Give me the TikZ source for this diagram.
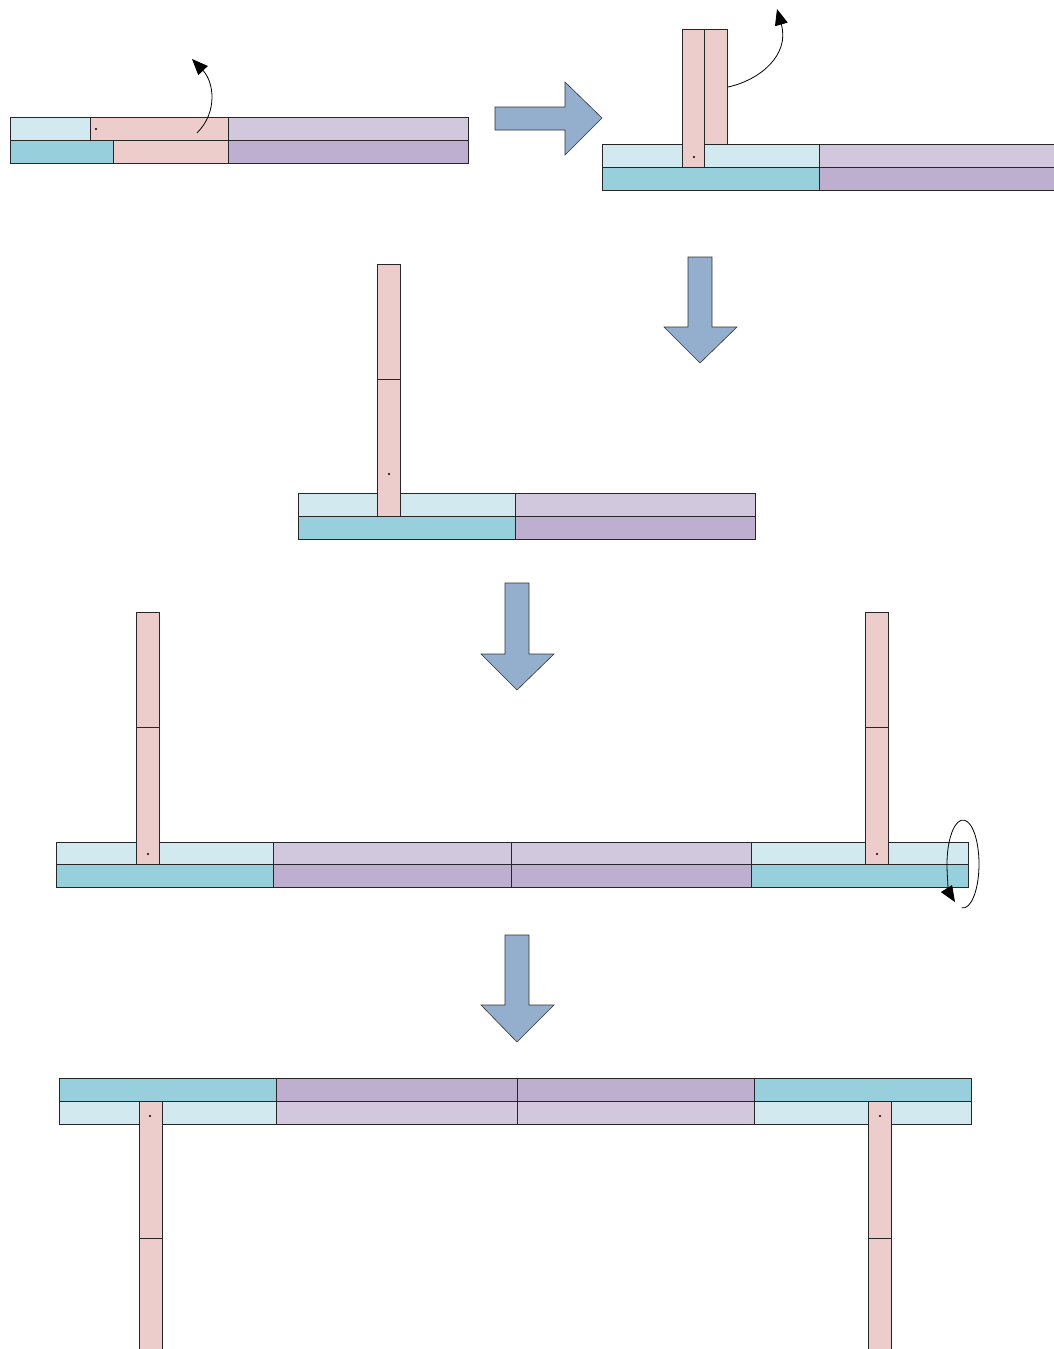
\documentclass[tikz,border=0pt]{standalone}
\usetikzlibrary{arrows.meta}
\definecolor{lcyan}{HTML}{D2EAEF}
\definecolor{dcyan}{HTML}{98CFDC}
\definecolor{lpurp}{HTML}{D2C8DE}
\definecolor{dpurp}{HTML}{BEAFD0}
\definecolor{pinkc}{HTML}{ECCDCB}
\definecolor{flowblue}{HTML}{94AECE}
\tikzset{
  bar/.style={draw=black!85, line width=0.75pt},
  lc/.style={bar, fill=lcyan},
  dc/.style={bar, fill=dcyan},
  lp/.style={bar, fill=lpurp},
  dp/.style={bar, fill=dpurp},
  pk/.style={bar, fill=pinkc},
  flow/.style={draw=black!80, fill=flowblue, line width=0.6pt},
  turn/.style={draw=black, line width=0.8pt, -{Triangle[length=16pt,width=13pt]}},
  pivot/.style={circle, fill=black, inner sep=0pt, minimum size=2.4pt}
}
\begin{document}
\begin{tikzpicture}[x=1pt,y=-1pt]
\path[use as bounding box] (0,0) rectangle (1054,1349);
\clip (0,0) rectangle (1054,1349);

% ---------- stage 1: folded strip lying flat ----------
\draw[lc] (10,117) rectangle (90,140);
\draw[pk] (90,117) rectangle (228,140);
\draw[lp] (228,117) rectangle (468,140);
\draw[dc] (10,140) rectangle (113,163);
\draw[pk] (113,140) rectangle (228,163);
\draw[dp] (228,140) rectangle (468,163);
\node[pivot] (p1) at (96,129) {};
\coordinate (s1a) at (197,133);
\coordinate (s1b) at (192,59);
\draw[turn] (s1a) .. controls (218,112) and (214,82) .. (s1b);

% right arrow
\draw[flow] (495,107) -- (565,107) -- (565,82) -- (602,118) -- (565,155) -- (565,130) -- (495,130) -- cycle;

% ---------- stage 2: strip raised ----------
\draw[lc] (602,144) rectangle (819,167);
\draw[lp] (819,144) rectangle (1060,167);
\draw[dc] (602,167) rectangle (819,190);
\draw[dp] (819,167) rectangle (1060,190);
\draw[pk] (682,29) rectangle (704,167);
\draw[pk] (704,29) rectangle (727,144);
\node[pivot] (p2) at (694,157) {};
\coordinate (s2a) at (728,87);
\coordinate (s2b) at (777,9);
\draw[turn] (s2a) .. controls (760,80) and (790,55) .. (s2b);

% down arrow
\draw[flow] (688,257) -- (712,257) -- (712,327) -- (737,327) -- (700,363) -- (664,327) -- (688,327) -- cycle;

% ---------- stage 3: strip unfolded upright ----------
\draw[lc] (298,493) rectangle (515,516);
\draw[lp] (515,493) rectangle (755,516);
\draw[dc] (298,516) rectangle (515,539);
\draw[dp] (515,516) rectangle (755,539);
\draw[pk] (377,264) rectangle (400,379);
\draw[pk] (377,379) rectangle (400,516);
\node[pivot] (p3) at (389,474) {};

% down arrow
\draw[flow] (505,583) -- (529,583) -- (529,654) -- (554,654) -- (517,690) -- (481,654) -- (505,654) -- cycle;

% ---------- stage 4: mirrored pair ----------
\draw[lc] (56,842) rectangle (273,864);
\draw[lp] (273,842) rectangle (511,864);
\draw[lp] (511,842) rectangle (751,864);
\draw[lc] (751,842) rectangle (968,864);
\draw[dc] (56,864) rectangle (273,887);
\draw[dp] (273,864) rectangle (511,887);
\draw[dp] (511,864) rectangle (751,887);
\draw[dc] (751,864) rectangle (968,887);
\draw[pk] (136,612) rectangle (159,727);
\draw[pk] (136,727) rectangle (159,864);
\draw[pk] (865,612) rectangle (888,727);
\draw[pk] (865,727) rectangle (888,864);
\node[pivot] (p4a) at (148,854) {};
\node[pivot] (p4b) at (877,854) {};
% flip about the long axis
\coordinate (rc) at (963,864);
\draw[turn] (rc) ++(-95:16pt and 44pt) arc[start angle=-95, end angle=240, x radius=16pt, y radius=44pt];

% down arrow
\draw[flow] (505,935) -- (529,935) -- (529,1005) -- (554,1005) -- (517,1042) -- (481,1005) -- (505,1005) -- cycle;

% ---------- stage 5: flipped over ----------
\draw[dc] (59,1078) rectangle (276,1101);
\draw[dp] (276,1078) rectangle (517,1101);
\draw[dp] (517,1078) rectangle (754,1101);
\draw[dc] (754,1078) rectangle (971,1101);
\draw[lc] (59,1101) rectangle (276,1124);
\draw[lp] (276,1101) rectangle (517,1124);
\draw[lp] (517,1101) rectangle (754,1124);
\draw[lc] (754,1101) rectangle (971,1124);
\draw[pk] (139,1101) rectangle (162,1238);
\draw[pk] (139,1238) rectangle (162,1360);
\draw[pk] (868,1101) rectangle (891,1238);
\draw[pk] (868,1238) rectangle (891,1360);
\node[pivot] (p5a) at (150,1116) {};
\node[pivot] (p5b) at (880,1116) {};
\end{tikzpicture}
\end{document}
